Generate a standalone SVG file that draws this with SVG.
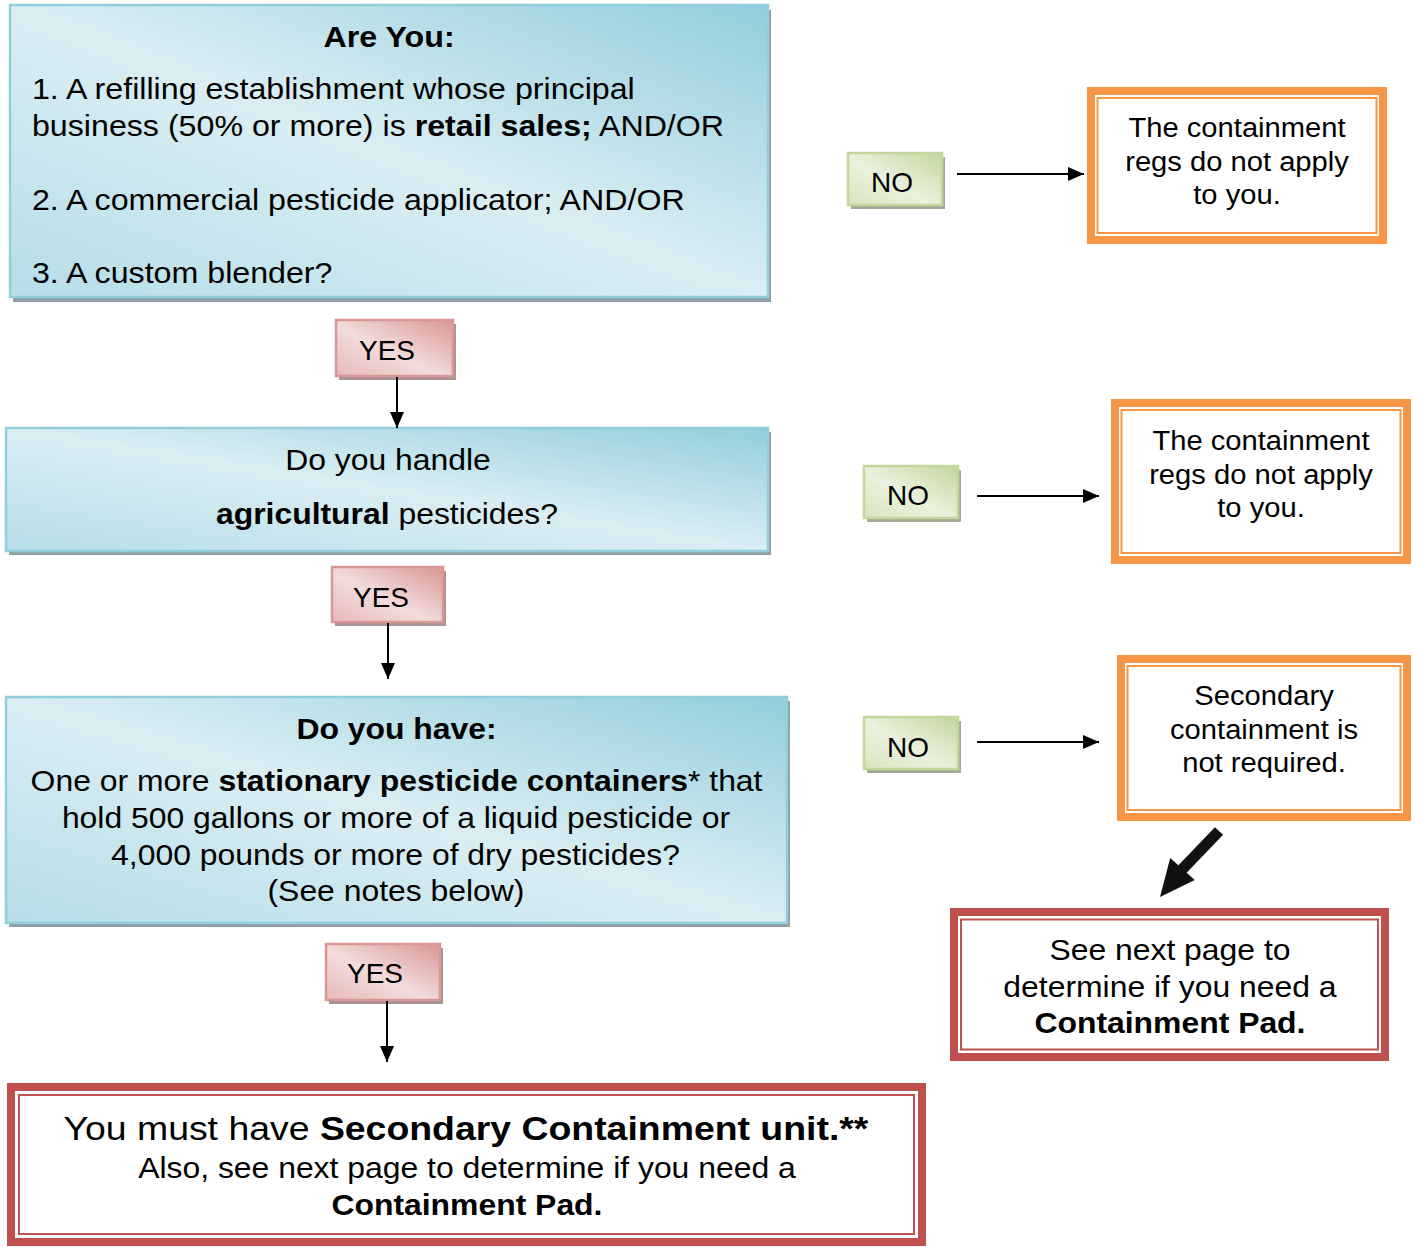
<svg xmlns="http://www.w3.org/2000/svg" width="1417" height="1247" viewBox="0 0 1417 1247">
<style>
text{font-family:"Liberation Sans",Arial,sans-serif;fill:#000}
.b{font-weight:bold}
.t29{font-size:29px}
.t27{font-size:27px}
.t28{font-size:28px}
.t34{font-size:34px}
.mid{text-anchor:middle}
.blue{fill:url(#gBlue);stroke:#92cddc;stroke-width:2.5}
.yes{fill:url(#gRed);stroke:#d99694;stroke-width:2.5}
.no{fill:url(#gGreen);stroke:#c3d69b;stroke-width:2.5}
.shB{fill:#8e9ea3}
.shR{fill:#a99494}
.shG{fill:#a3a995}
.oOut{fill:#fff;stroke:#f79646;stroke-width:8}
.oIn{fill:none;stroke:#f79646;stroke-width:2}
.rOut{fill:#fff;stroke:#c0504d;stroke-width:8}
.rIn{fill:none;stroke:#c0504d;stroke-width:2}
.con{stroke:#000;stroke-width:2;fill:none}
</style>
<defs>
<linearGradient id="gBlue" x1="1" y1="0" x2="0" y2="1">
<stop offset="0" stop-color="#92cddc"/>
<stop offset="0.5" stop-color="#daeef3"/>
<stop offset="1" stop-color="#b6dde8"/>
</linearGradient>
<linearGradient id="gRed" x1="1" y1="0" x2="0" y2="1">
<stop offset="0" stop-color="#d99694"/>
<stop offset="0.55" stop-color="#f2dcdb"/>
<stop offset="1" stop-color="#e6b9b8"/>
</linearGradient>
<linearGradient id="gGreen" x1="1" y1="0" x2="0" y2="1">
<stop offset="0" stop-color="#c3d69b"/>
<stop offset="0.55" stop-color="#ebf1de"/>
<stop offset="1" stop-color="#d7e4bd"/>
</linearGradient>
<marker id="ah" viewBox="0 0 16 14" refX="16" refY="7" markerWidth="16" markerHeight="14" markerUnits="userSpaceOnUse" orient="auto">
<path d="M0,0 L16,7 L0,14 Z" fill="#000"/>
</marker>
</defs>

<g id="q1">
<rect class="shB" x="13" y="10" width="758" height="292"/>
<rect class="blue" x="10" y="5" width="758" height="292"/>
<g transform="scale(1.11 1)">
<text class="t29 b mid" x="350.5" y="47">Are You:</text>
<text class="t29" x="28.8" y="99">1. A refilling establishment whose principal</text>
<text class="t29" x="28.8" y="136">business (50% or more) is <tspan class="b">retail sales;</tspan> AND/OR</text>
<text class="t29" x="28.8" y="210">2. A commercial pesticide applicator; AND/OR</text>
<text class="t29" x="28.8" y="283">3. A custom blender?</text>
</g>
</g>

<g id="yes1">
<rect class="shR" x="339" y="324" width="117" height="56"/>
<rect class="yes" x="336" y="320" width="117" height="56"/>
<text class="t28 mid" x="387" y="360">YES</text>
</g>

<g id="q2">
<rect class="shB" x="9" y="432" width="762" height="123"/>
<rect class="blue" x="6" y="428" width="762" height="123"/>
<g transform="scale(1.1 1)">
<text class="t29 mid" x="352.7" y="470">Do you handle</text>
<text class="t29 mid" x="351.8" y="524"><tspan class="b">agricultural</tspan> pesticides?</text>
</g>
</g>

<g id="yes2">
<rect class="shR" x="335" y="571" width="111" height="55"/>
<rect class="yes" x="332" y="567" width="111" height="55"/>
<text class="t28 mid" x="381" y="607">YES</text>
</g>

<g id="q3">
<rect class="shB" x="9" y="701" width="781" height="226"/>
<rect class="blue" x="6" y="697" width="781" height="226"/>
<g transform="scale(1.1 1)">
<text class="t29 b mid" x="360.5" y="739">Do you have:</text>
<text class="t29 mid" x="360.5" y="791">One or more <tspan class="b">stationary pesticide containers</tspan>* that</text>
<text class="t29 mid" x="360" y="828">hold 500 gallons or more of a liquid pesticide or</text>
<text class="t29 mid" x="359.6" y="865">4,000 pounds or more of dry pesticides?</text>
<text class="t29 mid" x="360" y="901">(See notes below)</text>
</g>
</g>

<g id="yes3">
<rect class="shR" x="329" y="948" width="114" height="56"/>
<rect class="yes" x="326" y="944" width="114" height="56"/>
<text class="t28 mid" x="375" y="983">YES</text>
</g>

<g id="result-main">
<rect class="rOut" x="11" y="1087" width="911" height="155"/>
<rect class="rIn" x="19" y="1095" width="895" height="139"/>
<g transform="scale(1.1 1)">
<text class="t34 mid" x="423.6" y="1140">You must have <tspan class="b">Secondary Containment unit.</tspan><tspan class="b">**</tspan></text>
<text class="t29 mid" x="424.5" y="1178">Also, see next page to determine if you need a</text>
<text class="t29 b mid" x="424.5" y="1215">Containment Pad.</text>
</g>
</g>

<g id="no1">
<rect class="shG" x="851" y="157" width="94" height="52"/>
<rect class="no" x="848" y="153" width="94" height="52"/>
<text class="t28 mid" x="892" y="192">NO</text>
</g>

<g id="res1">
<rect class="oOut" x="1091" y="91" width="292" height="149"/>
<rect class="oIn" x="1097.5" y="98" width="279" height="135"/>
<g transform="scale(1.08 1)">
<text class="t27 mid" x="1145.4" y="137">The containment</text>
<text class="t27 mid" x="1145.4" y="171">regs do not apply</text>
<text class="t27 mid" x="1145.4" y="204">to you.</text>
</g>
</g>

<g id="no2">
<rect class="shG" x="867" y="470" width="94" height="52"/>
<rect class="no" x="864" y="466" width="94" height="52"/>
<text class="t28 mid" x="908" y="505">NO</text>
</g>

<g id="res2">
<rect class="oOut" x="1115" y="403" width="292" height="157"/>
<rect class="oIn" x="1121.5" y="410" width="279" height="143"/>
<g transform="scale(1.08 1)">
<text class="t27 mid" x="1167.6" y="450">The containment</text>
<text class="t27 mid" x="1167.6" y="484">regs do not apply</text>
<text class="t27 mid" x="1167.6" y="517">to you.</text>
</g>
</g>

<g id="no3">
<rect class="shG" x="867" y="721" width="94" height="52"/>
<rect class="no" x="864" y="717" width="94" height="52"/>
<text class="t28 mid" x="908" y="757">NO</text>
</g>

<g id="res3">
<rect class="oOut" x="1121" y="659" width="286" height="158"/>
<rect class="oIn" x="1127.5" y="666" width="273" height="144"/>
<g transform="scale(1.08 1)">
<text class="t27 mid" x="1170.4" y="705">Secondary</text>
<text class="t27 mid" x="1170.4" y="739">containment is</text>
<text class="t27 mid" x="1170.4" y="772">not required.</text>
</g>
</g>

<g id="res4">
<rect class="rOut" x="954" y="912" width="431" height="145"/>
<rect class="rIn" x="961" y="919.5" width="417" height="130"/>
<g transform="scale(1.1 1)">
<text class="t29 mid" x="1063.6" y="960">See next page to</text>
<text class="t29 mid" x="1063.6" y="997">determine if you need a</text>
<text class="t29 b mid" x="1063.6" y="1033">Containment Pad.</text>
</g>
</g>

<g id="connectors">
<line class="con" x1="397" y1="377" x2="397" y2="428" marker-end="url(#ah)"/>
<line class="con" x1="388" y1="623" x2="388" y2="679" marker-end="url(#ah)"/>
<line class="con" x1="387" y1="1001" x2="387" y2="1062" marker-end="url(#ah)"/>
<line class="con" x1="957" y1="174" x2="1084" y2="174" marker-end="url(#ah)"/>
<line class="con" x1="977" y1="496" x2="1099" y2="496" marker-end="url(#ah)"/>
<line class="con" x1="977" y1="742" x2="1099" y2="742" marker-end="url(#ah)"/>
<polygon points="1214.9,827.3 1223.1,834.7 1186.6,872.7 1194.8,880 1160,897 1170.2,858 1178.4,865.3" fill="#111"/>
</g>
</svg>
